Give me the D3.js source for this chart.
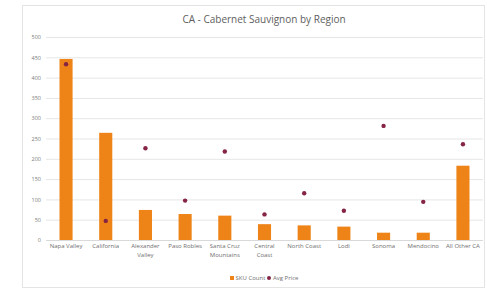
<!DOCTYPE html>
<html>
<head>
<meta charset="utf-8">
<script src="https://cdn.jsdelivr.net/npm/d3@7"></script>
<style>
  body { margin: 0; background: #fff; }
  text { font-family: "Open Sans", "Liberation Sans", sans-serif; }
</style>
</head>
<body>
<script>
var regions = ["Napa Valley", "California", "Alexander Valley", "Paso Robles", "Santa Cruz Mountains",
  "Central Coast", "North Coast", "Lodi", "Sonoma", "Mendocino", "All Other CA"];
var skuCount = [446, 264, 74, 64, 60, 39, 36, 33, 18, 18, 183];
var avgPrice = [433, 47, 226, 97, 218, 63, 115, 72, 281, 94, 236];
var yTicks = [0, 50, 100, 150, 200, 250, 300, 350, 400, 450, 500];
var seriesNames = ["SKU Count", "Avg Price"];

var W = 487, H = 289;
var margin = {left: 46, right: 4, top: 37, bottom: 49};

var svg = d3.select("body").append("svg").attr("width", W).attr("height", H);

// chart frame
svg.append("rect").attr("x", 22.5).attr("y", 5.5).attr("width", 462).attr("height", 282)
  .attr("fill", "#fff").attr("stroke", "#e4e4e4");

var x = d3.scaleBand().domain(regions).range([margin.left, W - margin.right]).paddingInner(0.67).paddingOuter(0.34);
var y = d3.scaleLinear().domain([0, 500]).range([H - margin.bottom, margin.top]);

// gridlines + y labels
var yAxis = svg.append("g").attr("transform", "translate(" + margin.left + ",0)")
  .call(d3.axisLeft(y).tickValues(yTicks).tickSize(-(W - margin.left - margin.right)).tickPadding(5));
yAxis.select(".domain").remove();
yAxis.selectAll(".tick line").attr("stroke", "#e6e6e6");
yAxis.selectAll(".tick text").attr("fill", "#7a7a7a").style("font-size", "5.5px");

// x axis line
svg.append("line").attr("x1", margin.left).attr("x2", W - margin.right)
  .attr("y1", y(0) + 0.5).attr("y2", y(0) + 0.5).attr("stroke", "#d9d9d9");

// bars
svg.selectAll(".bar").data(skuCount).enter().append("rect")
  .attr("class", "bar")
  .attr("x", function(d, i) { return x(regions[i]); })
  .attr("width", x.bandwidth())
  .attr("y", function(d) { return y(d); })
  .attr("height", function(d) { return y(0) - y(d); })
  .attr("fill", "#ee8418");

// avg price markers
svg.selectAll(".dot").data(avgPrice).enter().append("circle")
  .attr("class", "dot")
  .attr("cx", function(d, i) { return x(regions[i]) + x.bandwidth() / 2; })
  .attr("cy", function(d) { return y(d); })
  .attr("r", 2.2)
  .attr("fill", "#862443");

// x labels, wrapped like the original
var xLabels = {
  "Alexander Valley": ["Alexander", "Valley"],
  "Santa Cruz Mountains": ["Santa Cruz", "Mountains"],
  "Central Coast": ["Central", "Coast"]
};
regions.forEach(function(r) {
  var lines = xLabels[r] || [r];
  var t = svg.append("text")
    .attr("x", x(r) + x.bandwidth() / 2)
    .attr("y", y(0) + 8)
    .attr("text-anchor", "middle")
    .attr("fill", "#6f6f6f")
    .style("font-size", "6px");
  lines.forEach(function(l, k) {
    t.append("tspan").attr("x", x(r) + x.bandwidth() / 2).attr("dy", k === 0 ? 0 : 8.5).text(l);
  });
});

// title
svg.append("text").attr("x", 264).attr("y", 23).attr("text-anchor", "middle")
  .attr("fill", "#5e5e5e").style("font-size", "10px")
  .text("CA - Cabernet Sauvignon by Region");

// legend
var leg = svg.append("g").attr("transform", "translate(230,280)");
leg.append("rect").attr("x", 0).attr("y", -4).attr("width", 4).attr("height", 4).attr("fill", "#ee8418");
leg.append("text").attr("x", 5.5).attr("y", 0).attr("fill", "#6f6f6f").style("font-size", "6px").text(seriesNames[0]);
leg.append("circle").attr("cx", 39).attr("cy", -2).attr("r", 2).attr("fill", "#862443");
leg.append("text").attr("x", 43).attr("y", 0).attr("fill", "#6f6f6f").style("font-size", "6px").text(seriesNames[1]);
</script>
</body>
</html>
